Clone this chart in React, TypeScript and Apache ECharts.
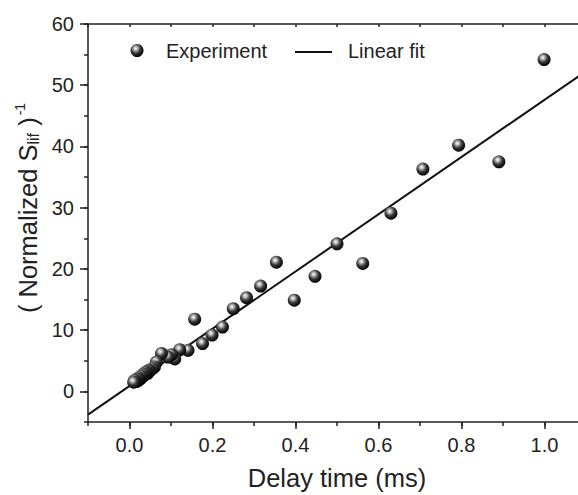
import React, { useEffect, useRef } from "react";
import * as echarts from "echarts";

const expX = [
  0.999, 0.89, 0.793, 0.707, 0.63, 0.562, 0.5, 0.447, 0.397, 0.354, 0.316, 0.282, 0.25,
  0.224, 0.199, 0.176, 0.157, 0.141, 0.121, 0.109, 0.101, 0.093, 0.077, 0.065, 0.06,
  0.055, 0.05, 0.045, 0.043, 0.04, 0.038, 0.035, 0.033, 0.03, 0.028, 0.025, 0.022,
  0.02, 0.018, 0.015, 0.012, 0.01,
];
const expY = [
  54.2, 37.5, 40.2, 36.3, 29.1, 20.9, 24.1, 18.8, 14.9, 21.1, 17.2, 15.3, 13.5,
  10.5, 9.2, 7.8, 11.8, 6.7, 6.8, 5.3, 6.0, 5.6, 6.2, 4.8, 4.0,
  3.7, 3.4, 3.4, 2.9, 3.2, 3.0, 2.6, 2.8, 2.3, 2.5, 2.0, 2.2,
  1.7, 2.0, 1.6, 1.8, 1.5,
];
const fitX = [-0.1, 1.1];
const fitY = [-3.8, 52.3];
const xMajorTicks = [0, 0.2, 0.4, 0.6, 0.8, 1.0];
const yMajorTicks = [0, 10, 20, 30, 40, 50, 60];
const legendNames = ["Experiment", "Linear fit"];
const xTitle = "Delay time (ms)";

const FONT = "Liberation Sans, Arial, sans-serif";
const INK = "#222";

const sphere = {
  type: "radial",
  x: 0.4,
  y: 0.35,
  r: 0.65,
  colorStops: [
    { offset: 0, color: "#ffffff" },
    { offset: 0.18, color: "#c8c8c8" },
    { offset: 0.55, color: "#3a3a3a" },
    { offset: 1, color: "#000000" },
  ],
};

export default function App() {
  const ref = useRef<HTMLDivElement>(null);
  useEffect(() => {
    document.body.style.margin = "0";
    const chart = echarts.init(ref.current!, null, { renderer: "svg" });
    const axisLineStyle = { color: INK, width: 1.5 };
    chart.setOption({
      animation: false,
      backgroundColor: "#fff",
      grid: {
        left: 88,
        top: 24,
        right: -8,
        bottom: 73,
        containLabel: false,
        outerBoundsMode: "none",
        show: false,
      },
      xAxis: [
        {
          type: "value",
          position: "bottom",
          min: -0.1,
          max: 1.1,
          axisLine: { show: true, onZero: false, lineStyle: axisLineStyle },
          axisTick: { show: true, customValues: xMajorTicks, length: 7, lineStyle: axisLineStyle },
          axisLabel: {
            customValues: xMajorTicks,
            formatter: (v: number) => v.toFixed(1),
            fontSize: 20,
            color: INK,
            fontFamily: FONT,
            margin: 13,
          },
          splitLine: { show: false },
          name: xTitle,
          nameLocation: "middle",
          nameGap: 43,
          nameTextStyle: { fontSize: 25.5, color: INK, fontFamily: FONT },
        },
        {
          type: "value",
          position: "bottom",
          min: -0.1,
          max: 1.1,
          interval: 0.1,
          axisLine: { show: false, onZero: false },
          axisTick: { show: true, length: 4, lineStyle: axisLineStyle },
          axisLabel: { show: false },
          splitLine: { show: false },
        },
        {
          type: "value",
          position: "top",
          min: -0.1,
          max: 1.1,
          interval: 0.1,
          axisLine: { show: true, onZero: false, lineStyle: axisLineStyle },
          axisTick: { show: true, inside: true, length: 3, lineStyle: axisLineStyle },
          axisLabel: { show: false },
          splitLine: { show: false },
        },
      ],
      yAxis: [
        {
          type: "value",
          position: "left",
          min: -5,
          max: 60,
          axisLine: { show: true, onZero: false, lineStyle: axisLineStyle },
          axisTick: { show: true, customValues: yMajorTicks, length: 8, lineStyle: axisLineStyle },
          axisLabel: {
            customValues: yMajorTicks,
            fontSize: 20,
            color: INK,
            fontFamily: FONT,
            margin: 14,
          },
          splitLine: { show: false },
        },
        {
          type: "value",
          position: "left",
          min: -5,
          max: 60,
          interval: 5,
          axisLine: { show: false, onZero: false },
          axisTick: { show: true, length: 4, lineStyle: axisLineStyle },
          axisLabel: { show: false },
          splitLine: { show: false },
        },
      ],
      series: [
        {
          name: legendNames[1],
          type: "line",
          xAxisIndex: 0,
          yAxisIndex: 0,
          data: fitX.map((x, i) => [x, fitY[i]]),
          showSymbol: false,
          lineStyle: { color: "#111", width: 2 },
          z: 2,
        },
        {
          name: legendNames[0],
          type: "scatter",
          xAxisIndex: 0,
          yAxisIndex: 0,
          data: expX.map((x, i) => [x, expY[i]]),
          symbolSize: 13,
          itemStyle: { color: sphere, opacity: 1 },
          z: 3,
        },
      ],
      graphic: [
        {
          type: "circle",
          shape: { cx: 137, cy: 50.5, r: 6.5 },
          style: { fill: sphere },
        },
        {
          type: "text",
          x: 166,
          y: 51,
          style: {
            text: legendNames[0],
            fontSize: 20,
            fontFamily: FONT,
            fill: INK,
            verticalAlign: "middle",
          },
        },
        {
          type: "line",
          shape: { x1: 295, y1: 52, x2: 332, y2: 52 },
          style: { stroke: "#111", lineWidth: 2 },
        },
        {
          type: "text",
          x: 348,
          y: 51,
          style: {
            text: legendNames[1],
            fontSize: 20,
            fontFamily: FONT,
            fill: INK,
            verticalAlign: "middle",
          },
        },
        {
          type: "text",
          x: 28,
          y: 208,
          rotation: Math.PI / 2,
          style: {
            text: "( Normalized S{sub|lif} ){sup|-1}",
            fontSize: 25.5,
            fontFamily: FONT,
            fill: INK,
            align: "center",
            verticalAlign: "middle",
            rich: {
              sub: { fontSize: 16, fontFamily: FONT, fill: INK, padding: [11, 0, 0, 0] },
              sup: { fontSize: 14, fontFamily: FONT, fill: INK, padding: [0, 0, 16, 2] },
            },
          },
        },
      ],
    });
    return () => chart.dispose();
  }, []);
  return <div ref={ref} style={{ width: 578, height: 495 }} />;
}
